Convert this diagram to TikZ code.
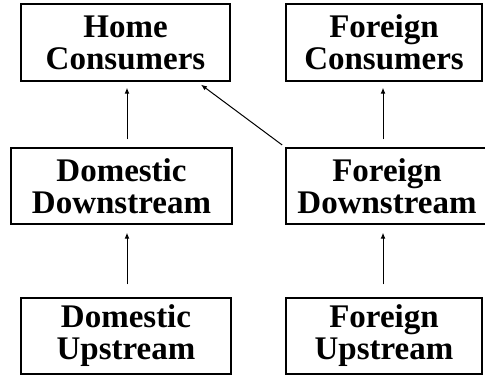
\documentclass[tikz,border=0pt]{standalone}
\usepackage{fontspec}
\setmainfont{Liberation Serif}
\usetikzlibrary{arrows.meta,calc}

\tikzset{
  market/.style={draw, line width=0.65pt, align=center, inner sep=0pt,
    font=\bfseries\fontsize{16.5}{16}\selectfont},
  flow/.style={-{Latex[length=3pt,width=2.4pt]}, line width=0.5pt}
}

\begin{document}
\begin{tikzpicture}[x=0.5pt, y=-0.5pt]
  % canvas 485 x 376 px, y runs downwards
  \clip (0,0) rectangle (485,376);

  % Consumers
  \node[market, minimum width=104.5pt, minimum height=38.5pt] (hc) at (125.5,42.5) {Home\\Consumers};
  \node[market, minimum width=98pt, minimum height=38.5pt] (fc) at (384,42.5) {Foreign\\Consumers};

  % Downstream firms
  \node[market, minimum width=110.5pt, minimum height=38pt] (dd) at (121.5,186) {Domestic\\Downstream};
  \node[market, minimum width=101pt, minimum height=38pt] (fd) at (387,186) {Foreign\\Downstream};

  % Upstream firms
  \node[market, minimum width=105pt, minimum height=38pt] (du) at (126,336) {Domestic\\Upstream};
  \node[market, minimum width=98pt, minimum height=38pt] (fu) at (384,336) {Foreign\\Upstream};

  % Arrow columns
  \coordinate (colL) at (127,0);
  \coordinate (colR) at (383,0);

  % Upstream -> Downstream
  \draw[flow, shorten <=6.5pt, shorten >=4pt] (du.north -| colL) -- (dd.south -| colL);
  \draw[flow, shorten <=6.5pt, shorten >=4pt] (fu.north -| colR) -- (fd.south -| colR);

  % Downstream -> Consumers
  \draw[flow, shorten <=4pt, shorten >=3pt] (dd.north -| colL) -- (hc.south -| colL);
  \draw[flow, shorten <=4pt, shorten >=3pt] (fd.north -| colR) -- (fc.south -| colR);
  \draw[flow, shorten <=2pt] (fd.north west) -- ([xshift=37.75pt, yshift=-1.5pt]hc.south);
\end{tikzpicture}
\end{document}
